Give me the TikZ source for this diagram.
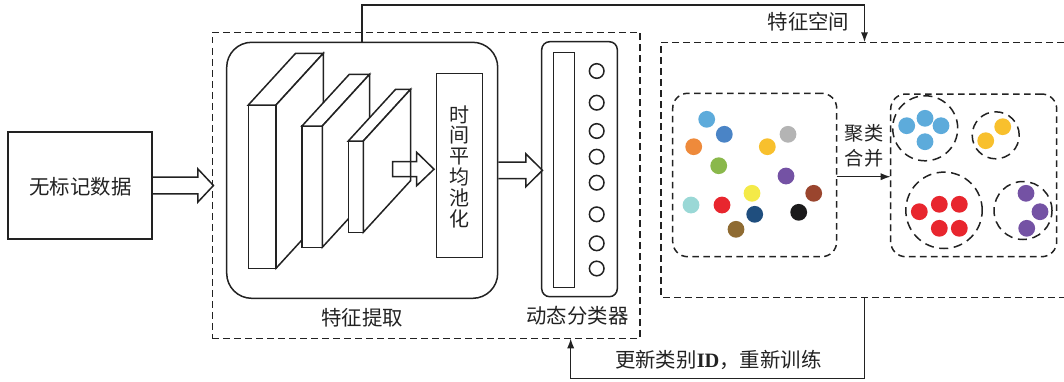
\documentclass[tikz,border=0pt]{standalone}
\usepackage{fontspec}
\setmainfont{Noto Sans CJK SC}
\newfontfamily\tnr{Liberation Serif}
\usetikzlibrary{fit,arrows.meta}
\definecolor{clb}{HTML}{5DABDB}
\definecolor{cbl}{HTML}{4A84C6}
\definecolor{cor}{HTML}{EE8A3B}
\definecolor{cgr}{HTML}{8AB84B}
\definecolor{cgd}{HTML}{F8C02D}
\definecolor{cgy}{HTML}{B4B4B4}
\definecolor{cpu}{HTML}{7452A4}
\definecolor{cye}{HTML}{F4EA48}
\definecolor{cbr}{HTML}{9A452E}
\definecolor{ccy}{HTML}{9AD8D6}
\definecolor{crd}{HTML}{E8262E}
\definecolor{cnv}{HTML}{1F4E7E}
\definecolor{cbk}{HTML}{1B1A1B}
\definecolor{cbn}{HTML}{8F6B32}
\definecolor{ink}{HTML}{222222}
\begin{document}
\begin{tikzpicture}[x=0.5pt,y=-0.5pt, line width=0.75pt, draw=ink,
  dsh/.style={dash pattern=on 3.3pt off 2.2pt},
  cdsh/.style={dash pattern=on 4.5pt off 2.8pt},
  box/.style={draw, inner sep=0pt},
  lbl/.style={font=\fontsize{10.2}{12}\selectfont, inner sep=0pt, text=ink},
  dot/.style={circle, inner sep=0pt, minimum size=8.4pt},
  ring/.style={circle, draw, fill=white, inner sep=0pt, minimum size=7.3pt},
  dring/.style={circle, draw, cdsh, inner sep=0pt},
  slab/.style={draw, fill=white, line join=miter},
  hollow/.style={draw, line join=miter},
  fb/.style={-{Latex[length=5pt,width=3.6pt]}}
]
\useasboundingbox (0,0) rectangle (1064,381);

% input
\node[box, fit={(8,132) (152,239)}] (input) {};
\node[lbl] (inputtxt) at (80.5,187) {无标记数据};

% left dashed container
\node[draw, dsh, inner sep=0pt, fit={(212.3,32.3) (640,338.3)}] (left) {};

% feature extraction
\node[draw, rounded corners=12.5pt, inner sep=0pt, fit={(226.7,42.3) (497.7,298.3)}] (fe) {};
\node[lbl] (fetxt) at (362,318) {特征提取};

% slabs
\draw[slab] (248.3,105) rectangle (276,268.3);
\draw[slab] (248.3,105) -- (295.6,53.3) -- (323.3,53.3) -- (276,105) -- cycle;
\draw[slab] (276,105) -- (323.3,53.3) -- (323.3,216.6) -- (276,268.3) -- cycle;
\draw[slab] (302,126) rectangle (322.3,247.3);
\draw[slab] (302,126) -- (349.3,74.3) -- (369.6,74.3) -- (322.3,126) -- cycle;
\draw[slab] (322.3,126) -- (369.6,74.3) -- (369.6,195.6) -- (322.3,247.3) -- cycle;
\draw[slab] (348.3,141) rectangle (363.3,232.3);
\draw[slab] (348.3,141) -- (395.6,89.3) -- (410.6,89.3) -- (363.3,141) -- cycle;
\draw[slab] (363.3,141) -- (410.6,89.3) -- (410.6,180.6) -- (363.3,232.3) -- cycle;

% pooling
\node[box, fit={(436.7,73.3) (482.7,257.7)}] (pool) {};
\node[lbl, align=center, font=\fontsize{10}{10.4}\selectfont] (pooltxt) at (459.7,166.5) {时\\间\\平\\均\\池\\化};

% hollow arrows
\draw[hollow] (input.east) ++(0,-8.4) -- ++(45,0) -- ++(0,-8.3) -- ++(15.7,16.7) -- ++(-15.7,16.7) -- ++(0,-8.3) -- ++(-45,0);
\draw[hollow] (392.7,161.7) -- (416.7,161.7) -- (416.7,152.3) -- (434,169.2) -- (416.7,185.7) -- (416.7,176.7) -- (392.7,176.7) -- cycle;
\draw[hollow] (fe.east) ++(0,-8.3) -- ++(27.3,0) -- ++(0,-8.2) -- ++(16.7,16.5) -- ++(-16.7,16.5) -- ++(0,-8.2) -- ++(-27.3,0);

% classifier
\node[draw, rounded corners=4pt, inner sep=0pt, fit={(541.7,41.7) (617.3,296.7)}] (cls) {};
\node[box, fit={(553.3,52.3) (574.3,287.3)}] (clsbar) {};
\foreach \y [count=\i] in {71,102.7,131,156.7,182.7,214.3,243.3,268.5}
  \node[ring] (r\i) at (596.7,\y) {};
\node[lbl] (clstxt) at (577.5,316) {动态分类器};

% feature space
\draw[dsh] (1064,42.3) -- (661,42.3) -- (661,297.3) -- (1064,297.3);
\coordinate (fsTop) at (864.5,42.3);
\coordinate (fsBot) at (864.5,297.3);
\node[lbl, anchor=east] (fstxt) at (850,21.7) {特征空间};

\node[draw, dsh, rounded corners=7.5pt, inner sep=0pt, fit={(672.7,93.3) (836.7,256.7)}] (raw) {};
\node[draw, dsh, rounded corners=7.5pt, inner sep=0pt, fit={(890.7,94) (1056.7,256.7)}] (clu) {};
\coordinate (arrA) at (836.7,176.7);
\coordinate (arrB) at (890.7,176.7);
\draw[fb] (arrA) -- (arrB);
\node[lbl, align=center, font=\fontsize{9.6}{12.5}\selectfont] (mergetxt) at (864,146) {聚类\\合并};

% raw dots
\node[dot, fill=clb] (d1) at (706.7,119.3) {};
\node[dot, fill=cbl] (d2) at (724.3,134.3) {};
\node[dot, fill=cor] (d3) at (693.7,146.7) {};
\node[dot, fill=cgr] (d4) at (718.7,165.7) {};
\node[dot, fill=cgd] (d5) at (767.3,146.7) {};
\node[dot, fill=cgy] (d6) at (788,134.3) {};
\node[dot, fill=cpu] (d7) at (786,176) {};
\node[dot, fill=cye] (d8) at (752,193.3) {};
\node[dot, fill=cbr] (d9) at (813.7,193.3) {};
\node[dot, fill=ccy] (d10) at (691,205) {};
\node[dot, fill=crd] (d11) at (722,205) {};
\node[dot, fill=cnv] (d12) at (754.7,214.3) {};
\node[dot, fill=cbk] (d13) at (798.7,212.3) {};
\node[dot, fill=cbn] (d14) at (736,229.3) {};

% clusters
\node[dring, minimum size=32.5pt] (c1) at (925.2,128.3) {};
\node[dring, minimum size=23.5pt] (c2) at (995.7,135.3) {};
\node[dring, minimum size=38.2pt] (c3) at (944,210.3) {};
\node[dring, minimum size=29pt] (c4) at (1023,210.5) {};
\node[dot, fill=clb] (b1) at (906.7,125.7) {};
\node[dot, fill=clb] (b2) at (925,118.3) {};
\node[dot, fill=clb] (b3) at (941,125.7) {};
\node[dot, fill=clb] (b4) at (925,141.7) {};
\node[dot, fill=cgd] (g1) at (1002.7,126.7) {};
\node[dot, fill=cgd] (g2) at (985.7,140.7) {};
\node[dot, fill=crd] (e1) at (919.3,211.7) {};
\node[dot, fill=crd] (e2) at (939.3,204.3) {};
\node[dot, fill=crd] (e3) at (959.3,204.3) {};
\node[dot, fill=crd] (e4) at (939.3,228.3) {};
\node[dot, fill=crd] (e5) at (959.3,228.3) {};
\node[dot, fill=cpu] (p1) at (1026,193.3) {};
\node[dot, fill=cpu] (p2) at (1040,211.7) {};
\node[dot, fill=cpu] (p3) at (1026.7,228.3) {};

% feedback connectors
\coordinate (topY) at (0,5);
\draw[fb] (fe.north) |- (topY -| fsTop) -- (fsTop);
\coordinate (fbEnd) at (570.7,338.3);
\coordinate (botY) at (0,378.3);
\draw[fb] (fsBot) |- (botY -| fbEnd) -- (fbEnd);
\node[lbl] (updtxt) at (718.3,360) {更新类别{\tnr\bfseries ID}，重新训练};
\end{tikzpicture}
\end{document}
